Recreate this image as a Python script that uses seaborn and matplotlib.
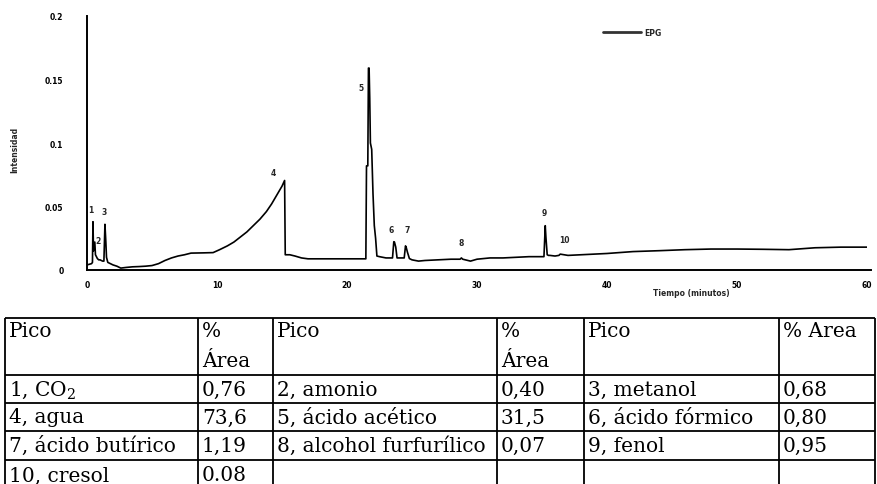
import matplotlib
matplotlib.use("Agg")
import matplotlib.pyplot as plt
import seaborn as sns
import pandas as pd

# ---------------- data ----------------
time_min = [0, 0.35, 0.42, 0.46, 0.5, 0.6, 0.65, 0.75, 0.8, 0.9, 1.0, 1.2, 1.3, 1.38, 1.45,
            1.5, 1.6, 1.8, 2.0, 2.3, 2.6, 3.0, 3.5, 4.0, 4.5, 5.0, 5.5, 6.0, 6.5, 7.0, 7.5,
            8.0, 9.0, 9.7, 10.2, 10.8, 11.3, 11.8, 12.3, 12.8, 13.3, 13.8, 14.2, 14.6, 15.0,
            15.2, 15.25, 15.6, 16.0, 16.5, 17.0, 18.0, 19.0, 20.0, 21.0, 21.45, 21.5, 21.6,
            21.65, 21.7, 21.75, 21.8, 21.9, 22.0, 22.1, 22.2, 22.3, 22.5, 23.0, 23.5, 23.6,
            23.65, 23.75, 23.85, 24.0, 24.4, 24.5, 24.55, 24.65, 24.8, 25.0, 25.5, 26.0, 27.0,
            28.0, 28.7, 28.8, 28.9, 29.5, 30.0, 31.0, 32.0, 33.0, 34.0, 35.0, 35.15, 35.25,
            35.3, 35.4, 35.5, 35.6, 36.0, 36.3, 36.4, 37.0, 38.0, 39.0, 40.0, 42.0, 44.0,
            46.0, 48.0, 50.0, 52.0, 54.0, 56.0, 58.0, 60.0]
intensity = [0.004, 0.005, 0.006, 0.038, 0.015, 0.022, 0.012, 0.01, 0.009, 0.008, 0.008, 0.007,
             0.007, 0.036, 0.022, 0.01, 0.006, 0.005, 0.004, 0.003, 0.0015, 0.002, 0.0025,
             0.0027, 0.003, 0.0035, 0.005, 0.0075, 0.0095, 0.011, 0.012, 0.0133, 0.0135,
             0.0137, 0.016, 0.019, 0.022, 0.026, 0.030, 0.035, 0.040, 0.046, 0.052, 0.059,
             0.066, 0.0705, 0.012, 0.012, 0.011, 0.0095, 0.0088, 0.0088, 0.0088, 0.0088,
             0.0088, 0.0088, 0.082, 0.082, 0.159, 0.159, 0.135, 0.100, 0.095, 0.060, 0.035,
             0.025, 0.011, 0.0105, 0.0095, 0.0095, 0.0223, 0.022, 0.018, 0.0095, 0.0095,
             0.0095, 0.019, 0.018, 0.014, 0.009, 0.008, 0.007, 0.0075, 0.008, 0.0085, 0.0085,
             0.0095, 0.0085, 0.007, 0.0085, 0.0095, 0.0095, 0.0100, 0.0105, 0.0105, 0.0105,
             0.0349, 0.026, 0.012, 0.0115, 0.0115, 0.011, 0.0115, 0.0125, 0.0115, 0.012,
             0.0125, 0.013, 0.0145, 0.0152, 0.016, 0.0165, 0.0165, 0.0163, 0.016, 0.0175,
             0.018, 0.018]

peak_labels = ["1", "2", "3", "4", "5", "6", "7", "8", "9", "10"]
peak_label_x = [0.3, 0.85, 1.3, 14.3, 21.1, 23.4, 24.6, 28.8, 35.2, 36.7]
peak_label_y = [0.048, 0.023, 0.046, 0.077, 0.144, 0.032, 0.032, 0.022, 0.045, 0.024]

x_ticks = [0, 10, 20, 30, 40, 50, 60]
y_ticks = [0, 0.05, 0.1, 0.15, 0.2]
y_tick_labels = ["0", "0.05", "0.1", "0.15", "0.2"]

series_name = "EPG"
x_title = "Tiempo (minutos)"
y_title = "Intensidad"

table_header = ["Pico", "%\nÁrea", "Pico", "%\nÁrea", "Pico", "% Area"]
compounds_a = ["1, CO$_2$", "4, agua", "7, ácido butírico", "10, cresol"]
area_a = ["0,76", "73,6", "1,19", "0.08"]
compounds_b = ["2, amonio", "5, ácido acético", "8, alcohol furfurílico", ""]
area_b = ["0,40", "31,5", "0,07", ""]
compounds_c = ["3, metanol", "6, ácido fórmico", "9, fenol", ""]
area_c = ["0,68", "0,80", "0,95", ""]

# ---------------- figure ----------------
sns.set_theme(style="white")
plt.rcParams['font.family'] = ['DejaVu Sans']
plt.rcParams['mathtext.fontset'] = 'dejavuserif'

W, H = 878, 485
fig = plt.figure(figsize=(W / 100, H / 100), dpi=100)
fig.patch.set_facecolor("white")

def px_rect(l, t, r, b):
    return [l / W, 1 - b / H, (r - l) / W, (b - t) / H]

ax = fig.add_axes(px_rect(87, 17, 867, 271))
df = pd.DataFrame({"t": time_min, "i": intensity})
sns.lineplot(data=df, x="t", y="i", ax=ax, color="black", lw=1.2,
             sort=False, estimator=None, label=series_name)
ax.set_xlim(0, 60)
ax.set_ylim(0, 0.2)
ax.set_xticks(x_ticks)
ax.set_xticklabels([str(v) for v in x_ticks])
ax.set_yticks(y_ticks)
ax.set_yticklabels(y_tick_labels)
ax.set_xlabel("")
ax.set_ylabel("")
for s in ["top", "right"]:
    ax.spines[s].set_visible(False)
for s in ["left", "bottom"]:
    ax.spines[s].set_color("black")
    ax.spines[s].set_linewidth(1.4)
ax.spines["bottom"].set_bounds(0, 60.3)
ax.tick_params(axis="both", direction="in", length=3, width=1, colors="black",
               labelsize=5.5)
ax.tick_params(axis="y", pad=17)
ax.tick_params(axis="x", pad=7)
for lab in ax.get_xticklabels() + ax.get_yticklabels():
    lab.set_fontweight("bold")
ax.patch.set_alpha(0)

for lab, xv, yv in zip(peak_labels, peak_label_x, peak_label_y):
    ax.text(xv, yv, lab, fontsize=5.5, fontweight="bold", ha="center", va="center")

leg = ax.legend(loc="center left", bbox_to_anchor=(0.661, 0.937), frameon=False,
                fontsize=5.5, handlelength=5.0, handletextpad=0.5, borderpad=0,
                borderaxespad=0)
for t in leg.get_texts():
    t.set_fontweight("bold")
for h in leg.get_lines():
    h.set_linewidth(2.0)
    h.set_color("#333333")

fig.text(691 / W, 1 - 294 / H, x_title, fontsize=5.5, fontweight="bold",
         ha="center", va="center")
fig.text(15 / W, 1 - 150 / H, y_title, fontsize=5.5, fontweight="bold",
         ha="center", va="center", rotation=90)

# ---------------- table ----------------
tax = fig.add_axes([0, 0, 1, 1])
tax.set_xlim(0, W)
tax.set_ylim(H, 0)
tax.axis("off")
tax.patch.set_alpha(0)

col_edges = [5, 198, 273, 497, 584, 779, 875]
row_edges = [319, 376, 404, 432, 461]
lw_tab = 1.3
for y in row_edges:
    tax.plot([col_edges[0], col_edges[-1]], [y, y], color="black", lw=lw_tab,
             solid_capstyle="butt")
for x in col_edges:
    tax.plot([x, x], [row_edges[0], H + 2], color="black", lw=lw_tab,
             solid_capstyle="butt")

tfont = dict(family="DejaVu Serif", fontsize=14.5, color="black")
for j, txt in enumerate(table_header):
    lines = txt.split("\n")
    for k, ln in enumerate(lines):
        tax.text(col_edges[j] + 4, 332 + k * 30, ln, ha="left", va="center", **tfont)

columns = [compounds_a, area_a, compounds_b, area_b, compounds_c, area_c]
row_centers = [390, 418, 446, 476]
for j, col in enumerate(columns):
    for i, txt in enumerate(col):
        if txt:
            tax.text(col_edges[j] + 4, row_centers[i], txt, ha="left", va="center", **tfont)

fig.savefig("out.png", dpi=100, facecolor="white")
